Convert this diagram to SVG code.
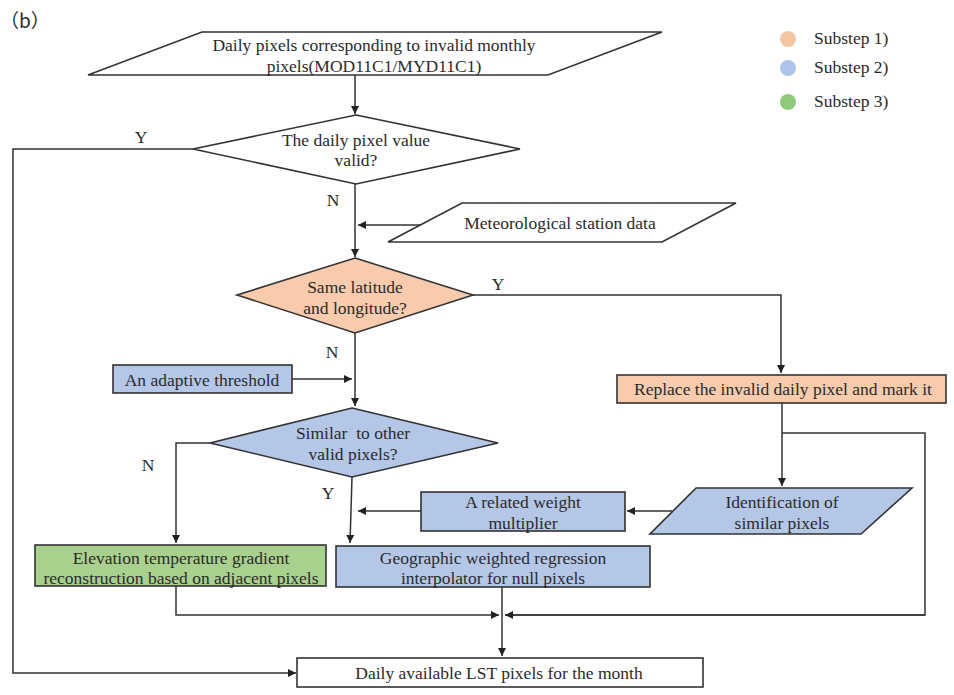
<svg xmlns="http://www.w3.org/2000/svg" width="954" height="695" viewBox="0 0 954 695">
<defs>
<marker id="ah" viewBox="0 0 10 10" refX="10" refY="5" markerWidth="8" markerHeight="8" markerUnits="userSpaceOnUse" orient="auto">
<path d="M0,0 L10,5 L0,10 z" fill="#222"/>
</marker>
<style>
text{font-family:"Liberation Serif","Times New Roman",serif;font-size:17.5px;fill:#2b2b2b;text-anchor:middle}
.s{stroke:#333;stroke-width:1.6}
.w{fill:#fff}
.o{fill:#F8CBAD}
.b{fill:#B4C7E7}
.g{fill:#A9D18E}
.c{fill:none;stroke:#333;stroke-width:1.5}
.a{marker-end:url(#ah)}
.lg{text-anchor:start}
</style>
</defs>
<rect width="954" height="695" fill="#fff"/>
<text x="0" y="28" style="text-anchor:start;font-size:19px;font-family:'Noto Sans CJK SC',serif">（b）</text>

<g id="legend">
<circle cx="788" cy="39" r="8" fill="#F4C6A4"/>
<text class="lg" x="814" y="44">Substep 1)</text>
<circle cx="788" cy="68" r="8" fill="#AEC2EA"/>
<text class="lg" x="814" y="73">Substep 2)</text>
<circle cx="788" cy="102" r="8" fill="#8ECC7C"/>
<text class="lg" x="814" y="107">Substep 3)</text>
</g>

<g id="connectors">
<path class="c a" d="M355,75 V114"/>
<path class="c a" d="M193,149 H13 V673 H296"/>
<path class="c a" d="M355,184 V257"/>
<path class="c a" d="M420,225 H358"/>
<path class="c a" d="M473,295 H781 V373"/>
<path class="c a" d="M355,333 V406"/>
<path class="c a" d="M292,379 H352"/>
<path class="c a" d="M210,443 H176 V543"/>
<path class="c a" d="M352,477 L350,543"/>
<path class="c a" d="M782,403 V486"/>
<path class="c" d="M782,433 H925 V615 H505"/>
<path class="c a" d="M925,615 H505"/>
<path class="c a" d="M672,511 H627"/>
<path class="c a" d="M421,511 H358"/>
<path class="c a" d="M176,586 V615 H499"/>
<path class="c a" d="M502,587 V656"/>
</g>

<g id="n-input">
<polygon class="w s" points="202,32 662,32 548,75 88,75"/>
<text x="374" y="51">Daily pixels corresponding to invalid monthly</text>
<text x="374" y="72">pixels(MOD11C1/MYD11C1)</text>
</g>

<g id="n-valid">
<polygon class="w s" points="356,115 520,149 356,184 193,149"/>
<text x="356" y="146">The daily pixel value</text>
<text x="356" y="166">valid?</text>
</g>
<text x="141" y="143">Y</text>
<text x="333" y="206">N</text>

<g id="n-station">
<polygon class="w s" points="462,203 736,203 662,242 388,242"/>
<text x="560" y="229">Meteorological station data</text>
</g>

<g id="n-same">
<polygon class="o s" points="355,258 473,295 355,333 237,295"/>
<text x="355" y="293">Same latitude</text>
<text x="355" y="314">and longitude?</text>
</g>
<text x="498" y="290">Y</text>
<text x="332" y="358">N</text>

<g id="n-threshold">
<rect class="b s" x="113" y="365" width="179" height="28"/>
<text x="202" y="386">An adaptive threshold</text>
</g>

<g id="n-replace">
<rect class="o s" x="617" y="375" width="329" height="28"/>
<text x="783" y="395">Replace the invalid daily pixel and mark it</text>
</g>

<g id="n-similar">
<polygon class="b s" points="352,408 498,443 352,477 210,443"/>
<text x="353" y="439" xml:space="preserve">Similar  to other</text>
<text x="353" y="460">valid pixels?</text>
</g>
<text x="148" y="471">N</text>
<text x="328" y="499">Y</text>

<g id="n-weight">
<rect class="b s" x="421" y="492" width="204" height="39"/>
<text x="523" y="508">A related weight</text>
<text x="523" y="529">multiplier</text>
</g>

<g id="n-ident">
<polygon class="b s" points="696,488 912,488 861,534 650,534"/>
<text x="782" y="508">Identification of</text>
<text x="782" y="529">similar pixels</text>
</g>

<g id="n-elev">
<rect class="g s" x="35" y="545" width="291" height="41"/>
<text x="181" y="564">Elevation temperature gradient</text>
<text x="181" y="584">reconstruction based on adjacent pixels</text>
</g>

<g id="n-gwr">
<rect class="b s" x="336" y="546" width="314" height="41"/>
<text x="493" y="564">Geographic weighted regression</text>
<text x="493" y="584">interpolator for null pixels</text>
</g>

<g id="n-output">
<rect class="w s" x="297" y="658" width="406" height="29"/>
<text x="499" y="679">Daily available LST pixels for the month</text>
</g>
</svg>
